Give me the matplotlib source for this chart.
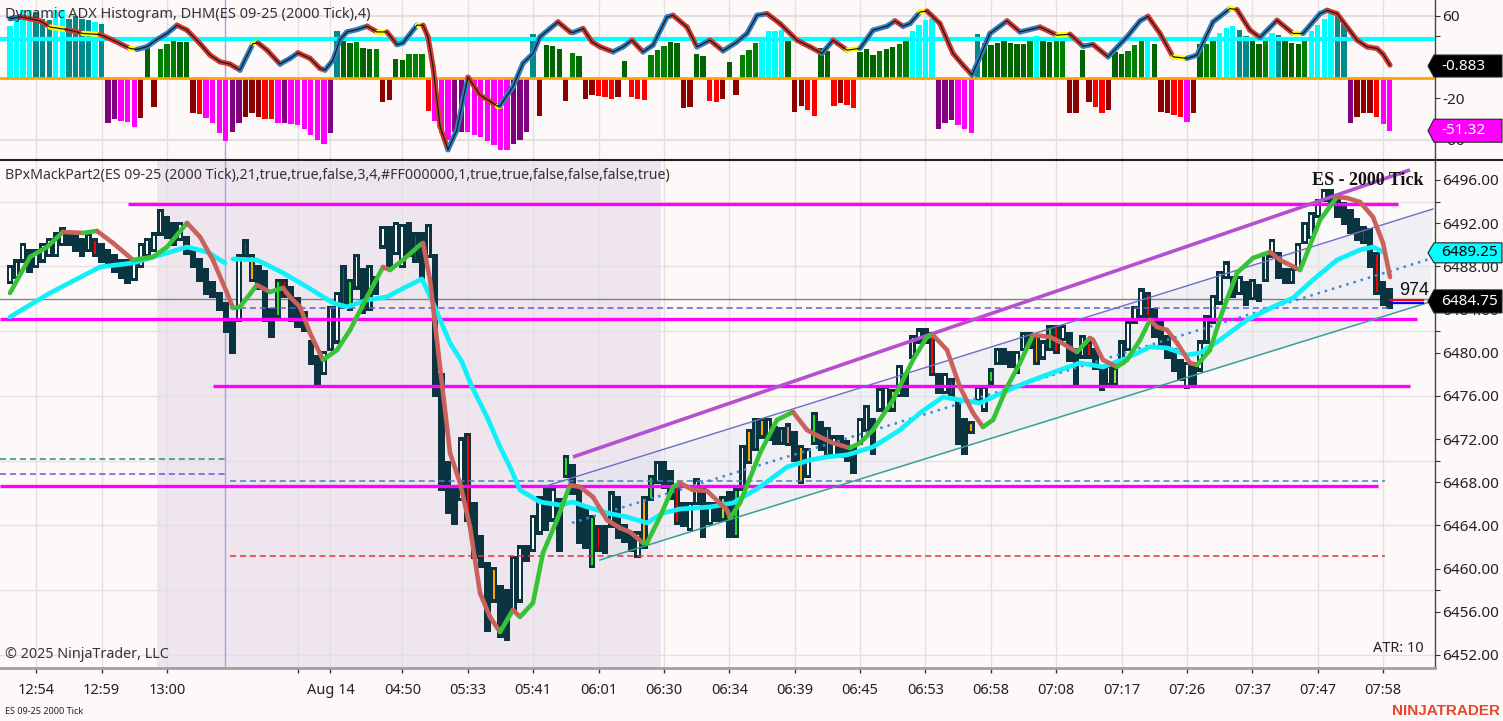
import numpy as np
import matplotlib
matplotlib.use("Agg")
import matplotlib.pyplot as plt
from matplotlib.collections import LineCollection
from matplotlib.patches import Polygon
from matplotlib.lines import Line2D
import matplotlib.transforms as mtransforms

plt.rcParams['font.family'] = ['Noto Sans', 'DejaVu Sans']

# ------------------------------------------------------------------ data
x_tick_pos = [4, 14, 24, 44, 49, 60, 70, 80, 90, 100, 110, 120, 130, 140, 150,
              160, 170, 180, 190, 200, 210]
x_tick_labels = ['12:54', '12:59', '13:00', '', 'Aug 14', '04:50', '05:33', '05:41',
                 '06:01', '06:30', '06:34', '06:39', '06:45', '06:53', '06:58',
                 '07:08', '07:17', '07:26', '07:37', '07:47', '07:58']

price_ticks = [6452, 6456, 6460, 6464, 6468, 6472, 6476, 6480, 6484, 6488, 6492, 6496]
price_grid = [6452, 6458, 6464, 6470, 6476, 6482, 6488, 6494]
osc_ticks = [60, -20, -60]
osc_minor = [40]
osc_grid = [60, -60]

# candles: (low, high, up)
candles = [
 (6486.5,6488.0,1),(6487.0,6488.5,1),(6488.5,6490.0,1),(6487.5,6489.5,0),(6488.0,6489.5,1),
 (6488.5,6490.0,1),(6489.0,6490.5,1),(6489.0,6491.0,1),(6490.0,6491.5,1),(6490.0,6491.0,0),
 (6489.5,6491.0,0),(6489.0,6490.5,0),(6489.5,6491.0,1),(6489.0,6490.5,0),(6488.5,6490.0,0),
 (6488.0,6489.5,0),(6487.5,6489.0,0),(6487.0,6488.5,0),(6486.5,6488.5,0),(6486.8,6488.5,1),
 (6488.0,6490.0,1),(6489.0,6490.5,1),(6489.5,6491.0,1),(6491.0,6493.2,1),(6490.7,6492.5,0),
 (6490.0,6492.0,0),(6490.5,6492.0,1),(6489.2,6490.7,0),(6488.0,6489.5,0),(6486.7,6488.6,0),
 (6485.5,6487.7,0),(6485.2,6486.5,0),(6484.0,6485.5,0),(6482.0,6484.5,0),(6480.0,6483.0,0),
 (6483.0,6489.0,1),(6488.9,6490.4,1),(6486.7,6489.0,0),(6486.0,6488.0,0),(6483.0,6487.5,0),
 (6481.5,6484.0,0),(6483.3,6486.7,1),(6485.2,6486.7,1),(6483.0,6486.0,0),(6482.4,6485.0,0),
 (6482.1,6483.7,0),(6479.0,6481.0,0),(6477.2,6479.6,0),(6478.1,6480.0,1),(6480.3,6484.2,1),
 (6481.0,6485.5,1),(6484.2,6488.0,1),(6484.0,6486.7,0),(6486.0,6489.0,1),(6483.7,6487.7,0),
 (6484.0,6488.0,1),(6485.5,6487.0,0),(6489.8,6491.6,1),(6488.0,6491.6,0),(6489.2,6492.0,1),
 (6488.0,6491.8,1),(6489.0,6492.0,0),(6488.5,6491.0,1),(6487.0,6491.0,0),(6488.9,6491.8,1),
 (6476.0,6489.0,0),(6467.3,6478.0,0),(6465.2,6469.8,0),(6464.2,6467.3,0),(6466.4,6472.0,1),
 (6464.5,6472.4,0),(6461.0,6466.0,0),(6460.2,6463.0,0),(6454.3,6460.5,0),(6457.0,6460.0,1),
 (6453.7,6458.3,0),(6453.4,6458.0,0),(6456.2,6461.0,1),(6457.0,6462.0,1),(6460.8,6462.0,0),
 (6461.7,6464.8,1),(6463.3,6466.6,1),(6463.6,6467.6,0),(6464.5,6467.3,1),(6461.7,6466.4,0),
 (6468.5,6470.4,1),(6467.0,6469.5,0),(6462.4,6467.3,0),(6462.0,6465.7,0),(6460.2,6464.8,0),
 (6461.7,6463.9,1),(6461.5,6463.9,0),(6463.9,6467.0,1),(6462.9,6466.6,0),(6462.5,6464.0,0),
 (6461.7,6463.3,0),(6461.1,6463.3,1),(6462.0,6466.6,1),(6466.4,6468.5,1),(6468.0,6469.8,1),
 (6467.5,6469.8,0),(6466.5,6469.0,0),(6464.2,6467.6,0),(6464.0,6466.0,0),(6463.6,6466.0,1),
 (6466.0,6468.2,1),(6463.0,6467.3,0),(6464.2,6466.0,1),(6464.5,6466.0,0),(6464.5,6466.6,1),
 (6463.0,6467.0,0),(6463.0,6467.3,1),(6467.3,6471.3,1),(6469.8,6472.8,1),(6471.0,6473.8,1),
 (6472.2,6473.8,0),(6472.0,6473.8,1),(6471.6,6473.1,0),(6471.6,6473.0,1),(6471.5,6473.3,0),
 (6470.0,6472.6,0),(6468.0,6471.3,0),(6468.5,6471.0,1),(6471.6,6474.4,1),(6471.0,6473.5,0),
 (6470.5,6473.0,0),(6470.4,6472.2,1),(6470.4,6472.2,0),(6470.0,6471.8,0),(6468.9,6471.3,0),
 (6471.6,6473.8,1),(6472.8,6475.0,1),(6470.7,6473.8,0),(6474.7,6476.6,1),(6474.7,6476.8,1),
 (6474.7,6476.5,0),(6476.0,6478.7,1),(6476.0,6478.0,0),(6479.6,6481.5,1),(6481.0,6482.1,1),
 (6481.0,6482.1,0),(6478.0,6481.8,0),(6476.3,6478.0,0),(6476.3,6478.0,1),(6476.0,6477.5,0),
 (6471.6,6475.6,0),(6470.7,6473.8,0),(6472.6,6473.5,1),(6475.6,6476.8,1),(6474.7,6476.8,1),
 (6477.2,6478.4,1),(6479.0,6480.3,1),(6479.0,6480.3,0),(6478.7,6480.0,0),(6478.2,6480.0,1),
 (6480.3,6481.8,1),(6480.5,6481.8,0),(6479.0,6481.5,0),(6479.5,6481.0,1),(6480.3,6482.4,1),
 (6480.0,6482.4,0),(6481.2,6482.4,1),(6479.3,6481.8,0),(6477.2,6480.3,0),(6479.6,6481.5,1),
 (6479.6,6481.0,0),(6478.5,6480.3,0),(6476.6,6478.7,0),(6477.0,6478.7,1),(6477.0,6478.5,0),
 (6479.0,6481.0,1),(6480.3,6482.8,1),(6482.8,6484.2,1),(6483.3,6485.8,1),(6483.3,6485.5,0),
 (6481.5,6484.0,0),(6480.5,6482.8,0),(6479.6,6481.5,0),(6478.4,6480.3,0),(6477.5,6479.3,0),
 (6476.8,6479.0,1),(6477.0,6479.0,0),(6478.4,6481.0,1),(6481.0,6483.3,1),(6482.8,6485.2,1),
 (6484.6,6487.4,1),(6487.0,6488.3,1),(6485.2,6487.0,0),(6485.5,6487.0,1),(6484.5,6486.5,0),
 (6485.0,6486.7,1),(6484.8,6486.2,0),(6486.7,6489.2,1),(6488.9,6490.4,1),(6487.0,6489.2,0),
 (6486.5,6487.7,0),(6486.5,6487.7,1),(6487.7,6490.0,1),(6490.2,6492.0,1),(6490.7,6492.9,1),
 (6492.6,6494.1,1),(6494.1,6495.0,1),(6494.0,6495.0,0),(6492.6,6494.3,0),(6492.0,6493.8,0),
 (6491.1,6493.2,0),(6490.5,6492.3,0),(6490.2,6491.6,0),(6488.0,6491.4,0),(6485.5,6489.2,0),
 (6484.5,6486.5,0),(6484.2,6485.8,0),
]

signals = [(13,'r'),(36,'r'),(37,'o'),(41,'g'),(42,'r'),(51,'r'),(52,'g'),(62,'r'),(70,'r'),
           (74,'o'),(85,'g'),(89,'g'),(90,'r'),(97,'o'),(98,'g'),(102,'r'),(109,'y'),(111,'g'),
           (113,'o'),(114,'g'),(115,'o'),(118,'o'),(119,'s'),(121,'o'),(123,'g'),(125,'o'),
           (135,'y'),(141,'r'),(144,'r'),(147,'o'),(150,'g'),(157,'o'),(159,'g'),(160,'r'),
           (165,'r'),(169,'y'),(174,'r'),(207,'r'),(209,'r')]

# histogram: (value, colour code)
hist = [
 (50,'C'),(61,'C'),(66,'C'),(66,'C'),(64,'T'),(57,'T'),(55.6,'T'),(66,'C'),(66,'C'),(57,'T'),
 (60,'T'),(57,'T'),(55.6,'T'),(54,'C'),(52,'T'),(-44,'P'),(-40,'P'),(-42,'M'),(-43,'M'),(-48,'M'),
 (-39,'K'),(31.5,'D'),(-28.6,'K'),(27.6,'G'),(33,'G'),(35.6,'G'),(34.7,'D'),(34.7,'D'),(-34.4,'K'),(-35,'R'),
 (-39,'M'),(-44,'M'),(-53.6,'M'),(-61.7,'M'),(-53,'P'),(-44,'P'),(-38,'K'),(-34.4,'K'),(-37.6,'K'),(-40,'R'),
 (-40,'R'),(-44,'M'),(-43.4,'P'),(-44.6,'M'),(-45.6,'M'),(-49.8,'M'),(-55,'M'),(-60,'M'),(-64,'M'),(-53.6,'P'),
 (45,'T'),(35.6,'D'),(34,'D'),(34.7,'G'),(28.6,'D'),(27.6,'D'),(27.6,'G'),(-24,'K'),(-22,'K'),(17.7,'D'),
 (17,'D'),(23.4,'G'),(23.4,'G'),(23.4,'G'),(-32.7,'R'),(-42.4,'M'),(-53.6,'M'),(-60,'M'),(-53,'P'),(-53,'P'),
 (-53,'M'),(-55,'M'),(-57,'M'),(-61.7,'M'),(-65,'M'),(-69.7,'M'),(-70,'M'),(-64,'P'),(-60.7,'P'),(-53,'P'),
 (42.7,'T'),(-37,'K'),(31.5,'D'),(30.8,'D'),(27.3,'D'),(-23,'K'),(24,'G'),(20.9,'D'),(-20.9,'K'),(-16.7,'K'),
 (-17.7,'R'),(-18.3,'R'),(-20.6,'R'),(-18.3,'K'),(16.4,'D'),(-18.3,'R'),(-20.6,'R'),(-22,'R'),(21.8,'G'),(26.7,'G'),
 (30.8,'G'),(34.7,'D'),(34,'D'),(-28.9,'K'),(-28.3,'K'),(23.4,'D'),(20.9,'D'),(-22.5,'R'),(-23.4,'R'),(-20.6,'K'),
 (15.4,'D'),(-16.4,'K'),(21.8,'G'),(26.7,'G'),(33.7,'G'),(39.5,'C'),(45,'C'),(45,'C'),(46,'C'),(38.9,'D'),
 (-32.8,'K'),(-27.3,'K'),(-31,'R'),(-36.6,'R'),(29.2,'D'),(25.7,'D'),(-27.3,'R'),(-24.7,'K'),(-26.3,'R'),(-28.9,'R'),
 (24.4,'D'),(27.3,'D'),(21.8,'D'),(25.7,'G'),(27.6,'D'),(29.9,'D'),(32.4,'G'),(35.6,'G'),(45.3,'C'),(50.7,'C'),
 (56,'C'),(57,'C'),(-49.5,'P'),(-44,'P'),(-41.4,'P'),(-45.6,'M'),(-49.8,'M'),(-53.6,'M'),(42,'T'),(34,'D'),
 (31.5,'D'),(34,'D'),(35.6,'D'),(34,'D'),(32.4,'D'),(32.4,'D'),(35.6,'G'),(40.1,'C'),(35.6,'D'),(34.7,'D'),
 (35.6,'G'),(38.9,'G'),(-34.4,'K'),(-33.7,'K'),(26.7,'D'),(-24,'K'),(-28.6,'R'),(-33.7,'R'),(-31,'K'),(24.4,'D'),
 (22.5,'D'),(25.7,'G'),(31.5,'G'),(38.9,'G'),(39.5,'C'),(32.4,'D'),(-33.4,'K'),(-34.4,'K'),(-36,'R'),(-38.2,'R'),
 (-43,'M'),(-34.4,'K'),(32.4,'D'),(33,'G'),(35.6,'G'),(43.4,'C'),(48.5,'C'),(49.8,'C'),(46.6,'T'),(40.1,'T'),
 (35.6,'D'),(33,'D'),(35.6,'G'),(43.4,'C'),(41.1,'T'),(35.6,'D'),(34,'D'),(32.4,'D'),(38.9,'G'),(45,'C'),
 (50.7,'C'),(57,'C'),(62,'C'),(60.4,'T'),(52.3,'T'),(-43.4,'P'),(-37.6,'K'),(-34.4,'K'),(-33.7,'K'),(-37.6,'R'),
 (-44.6,'M'),(-52,'M'),
]

adx_pts = [(0,57),(1.53,59),(4.59,55),(6.12,49),(8.72,46.6),(11.16,42.8),(13.76,41.8),(15.75,36.3),
 (18.35,28.3),(19.42,27.4),(20.95,30),(22.48,37),(24.01,42.8),(25.54,50.8),(27.07,46),(29.06,33),
 (30.59,21.9),(32.11,15.4),(33.64,13.2),(35.17,7.4),(37.16,33),(37.93,33.7),(39.3,26.7),(41.29,13.2),
 (42.82,18.7),(44.04,24),(45.88,18.7),(47.41,9),(48.17,7.4),(49.4,17),(50.47,37),(51.54,44.3),
 (53.07,46.6),(54.6,49.8),(56.12,44.3),(57.65,44.3),(59.18,32),(60.1,33.7),(62.24,50.8),(63.16,50.8),
 (63.92,39.5),(64.69,10.6),(65.76,-47),(66.98,-69.7),(68.36,-50.4),(69.28,-21.5),(70.04,0.4),
 (71.88,-16.7),(74.48,-27.3),(74.94,-27.3),(76.92,-8.7),(78.45,13.9),(79.98,23.5),(81.05,39.5),
 (82.58,47.6),(83.8,54),(85.64,44.3),(86.1,43.7),(87.63,47.6),(89.0,34.7),(90.23,29.9),(92.22,25),
 (93.75,29.9),(95.12,36.3),(96.8,25),(98.33,31.5),(100.47,58.8),(101.39,60.4),(103.53,49),
 (105.06,29.9),(107.05,36.3),(109.04,26),(111.18,34.7),(112.71,42.8),(114.24,60.4),(115.77,62),
 (117.75,52.4),(120.35,36.3),(122.34,29.9),(124.18,23.5),(125.86,36.3),(128.0,26.7),(129.99,28.3),
 (131.98,46),(134.12,49.8),(135.34,55),(136.57,49.8),(137.63,52.4),(139.17,63.6),(140.24,64.5),
 (142.22,52.4),(144.21,23.5),(145.74,12.2),(147.12,2.6),(148.34,20.2),(149.87,42.8),(152.47,55),
 (154.46,44.3),(157.52,49),(160.12,41.1),(162.1,42.1),(164.09,30.5),(165.62,32.2),(167.92,20.2),
 (170.82,39.5),(172.81,55),(174.03,59.4),(175.87,42.8),(177.86,20.2),(180.0,18.7),(181.53,21.9),
 (183.97,54),(186.57,66.9),(187.64,65.9),(189.63,46),(191.16,38.9),(193.76,55.6),(196.21,42.8),
 (197.74,42.8),(200.34,62),(201.41,65.2),(202.94,62),(206.0,36.3),(207.52,29.9),(209.05,28.3),
 (209.97,22.8),(211.04,12.2)]

fast_pts = [(0,6485.53),(3.06,6488.87),(5.66,6489.79),(8.1,6491.18),(11.16,6491.09),(13.3,6491.28),
 (15.75,6490.16),(18.81,6488.59),(21.87,6488.87),(24.01,6489.79),(27.07,6492.02),(29.06,6490.72),
 (31.04,6488.59),(33.19,6485.53),(34.1,6484.14),(35.17,6484.24),(37.77,6486.27),(39.76,6485.62),
 (41.75,6486.0),(42.82,6485.16),(44.35,6484.24),(45.88,6481.83),(47.87,6479.33),(50.01,6480.25),
 (52.0,6482.10),(54.6,6485.16),(57.04,6487.94),(58.11,6487.66),(60.1,6488.59),(62.7,6489.98),
 (63.16,6490.16),(64.23,6486.74),(65.76,6478.68),(67.29,6470.71),(68.82,6467.93),(70.35,6463.86),
 (71.88,6457.74),(73.41,6455.52),(74.94,6454.13),(76.92,6456.17),(77.99,6455.52),(79.98,6456.82),
 (81.51,6461.45),(83.65,6464.50),(85.64,6467.75),(87.17,6467.56),(89.16,6466.63),(91.3,6464.50),
 (93.29,6463.76),(94.82,6463.39),(96.8,6462.37),(97.42,6462.40),(99.4,6464.78),(101.39,6467.56),
 (102.46,6467.93),(104.45,6467.28),(106.59,6467.20),(109.65,6465.43),(110.11,6464.69),
 (111.64,6466.08),(114.7,6470.71),(117.3,6473.77),(119.74,6474.51),(121.88,6472.84),(123.87,6472.19),
 (125.86,6471.64),(128.46,6471.17),(129.99,6471.64),(131.98,6472.84),(135.04,6475.62),
 (138.09,6479.33),(140.24,6481.46),(141.15,6481.64),(143.29,6480.25),(145.28,6476.82),
 (147.27,6474.42),(148.8,6473.12),(150.33,6473.77),(152.47,6476.82),(154.46,6479.05),
 (156.45,6481.64),(159.05,6481.46),(160.58,6480.99),(163.17,6480.07),(165.16,6481.36),
 (165.62,6481.18),(167.15,6479.33),(169.29,6478.68),(170.82,6479.33),(172.81,6481.18),
 (174.34,6483.03),(175.41,6482.38),(176.94,6482.10),(178.47,6480.90),(180.46,6479.05),
 (181.53,6478.86),(183.51,6480.25),(185.5,6483.96),(187.64,6487.39),(190.09,6488.77),
 (192.69,6489.33),(194.22,6488.59),(197.28,6487.66),(197.74,6488.31),(200.34,6492.29),
 (202.94,6494.43),(204.47,6494.33),(206.45,6493.96),(208.44,6492.57),(209.97,6490.16),(211.04,6487.01)]

slow_pts = [(0,6483.31),(6.12,6485.53),(13.76,6487.94),(18.81,6488.31),(24.01,6489.24),(27.07,6489.79),
 (30.13,6489.33),(32.88,6488.31),(np.nan,np.nan),(34.1,6488.68),(37.77,6488.59),(41.75,6487.39),
 (45.42,6486.09),(49.39,6484.61),(51.54,6484.24),(54.6,6484.88),(57.65,6485.16),(59.64,6485.81),
 (63.0,6486.83),(64.69,6484.61),(67.29,6480.90),(69.12,6479.14),(70.65,6476.82),(72.95,6474.05),
 (74.93,6471.27),(76.46,6469.41),(77.99,6467.28),(81.05,6466.17),(84.11,6465.89),(86.1,6466.17),
 (88.24,6465.71),(91.3,6465.15),(94.36,6464.78),(97.42,6464.23),(99.86,6465.15),(102.46,6465.52),
 (107.05,6465.71),(110.57,6466.08),(114.7,6467.56),(118.83,6469.41),(122.34,6470.06),(124.94,6470.34),
 (128.0,6470.53),(131.98,6471.27),(136.11,6472.84),(139.17,6474.42),(142.68,6475.90),(145.28,6475.62),
 (148.34,6475.34),(150.33,6475.90),(153.39,6476.73),(156.45,6477.47),(160.58,6478.40),(163.63,6479.05),
 (167.15,6478.68),(170.82,6479.51),(174.34,6480.53),(176.94,6480.44),(180.0,6479.79),(181.98,6479.97),
 (185.04,6481.18),(189.17,6483.03),(193.15,6484.24),(196.21,6485.07),(199.27,6486.74),(202.94,6488.59),
 (206.45,6489.52),(208.44,6489.79),(209.97,6489.33)]

magenta_levels = [6493.8, 6483.12, 6476.92, 6467.65]
magenta_spans = [(18.05, 212.3), (-1.6, 215.2), (31.04, 214.1), (-1.6, 209.2)]

dash_levels = [6470.15, 6468.76, 6484.10, 6468.12, 6461.17]
dash_spans = [(-1.6, 33.34), (-1.6, 33.34), (33.64, 211.04), (33.64, 210.3), (33.64, 210.3)]
dash_colors = ['#2e8b8b', '#6a5acd', '#6a5acd', '#4682b4', '#e8303a']

chan_upper_thick = [(86.1, 6470.34), (214.1, 6496.93)]
chan_upper = [(81.51, 6467.56), (217.6, 6493.31)]
chan_mid = [(85.95, 6464.23), (217.6, 6488.77)]
chan_lower = [(90.23, 6460.80), (217.15, 6484.70)]

last_price = 6484.95
slow_last = 6489.25
close_last = 6484.75
osc_line_label = -0.883
osc_hist_last = -51.32
adx_level = 37.2
session_break = 32.95
shade_span = (22.48, 99.56)
tick_count_left = '974'

# ------------------------------------------------------------------ figure
W, H = 1503, 721
BG = '#fdf9f9'
DARK = '#0b3441'
fig = plt.figure(figsize=(W / 100, H / 100), dpi=100)
fig.patch.set_facecolor(BG)

right_px = 1435
ax_top = fig.add_axes([0, 1 - 159 / H, right_px / W, 159 / H])
ax = fig.add_axes([0, 1 - 668 / H, right_px / W, (668 - 160) / H])
for a in (ax_top, ax):
    a.set_facecolor(BG)
    a.set_xlim(-10 / 6.539, (right_px - 10) / 6.539)
    for s in ('top', 'left'):
        a.spines[s].set_visible(False)
    a.spines['right'].set_color('#444444')
    a.spines['right'].set_linewidth(1)

ax.set_ylim(6450.79, 6497.85)
ax_top.set_ylim(-78.7, 75.2)
ax_top.spines['bottom'].set_visible(False)
ax.spines['bottom'].set_color('#a0a0a0')
ax.spines['bottom'].set_linewidth(2)

# grids
for a in (ax_top, ax):
    a.vlines(x_tick_pos, 0, 1, transform=a.get_xaxis_transform(), color='#e5e0e0',
             lw=1, zorder=0.6)
    a.axvline(session_break, color='#a3a3e0', lw=1, zorder=1.5)
ax.hlines(price_grid, -5, 230, color='#e5e0e0', lw=1, zorder=0.6)
ax_top.hlines(osc_grid, -5, 230, color='#e5e0e0', lw=1.5, zorder=0.6)
ax.axvspan(*shade_span, color='#eee5ee', zorder=0.5, lw=0)

# ------------------------------------------------------------------ top panel
hcol = {'C': '#00ffff', 'T': '#008b8b', 'G': '#008000', 'D': '#006400',
        'P': '#800080', 'M': '#ff00ff', 'R': '#ff0000', 'K': '#8b0000'}
hv = np.array([h[0] for h in hist])
hc = [hcol[h[1]] for h in hist]
ax_top.bar(np.arange(len(hist)), hv, width=0.82, color=hc, zorder=2, lw=0)
ax_top.axhline(adx_level, color='#00ffff', lw=3, zorder=3)
ax_top.axhline(0, color='#ffa500', lw=2, zorder=3)

ax_x = np.array([p[0] for p in adx_pts])
ax_v = np.array([p[1] for p in adx_pts])
segs = [[(ax_x[k], ax_v[k]), (ax_x[k + 1], ax_v[k + 1])] for k in range(len(ax_x) - 1)]
slopes = np.diff(ax_v) / np.diff(ax_x)
scol = ['#ffff00' if abs(s) < 1.0 else ('#2f7fc1' if s > 0 else '#d23a32') for s in slopes]
ax_top.add_collection(LineCollection(segs, colors=scol, linewidths=3.8, zorder=4,
                                     capstyle='round', joinstyle='round'))
ax_top.plot(ax_x, ax_v, color='#1a1a1a', lw=0.9, zorder=4.5, solid_joinstyle='round')

ax_top.set_xticks([])
ax_top.yaxis.tick_right()
ax_top.set_yticks(osc_ticks)
ax_top.set_yticklabels([str(v) for v in osc_ticks])
ax_top.set_yticks(osc_minor, minor=True)
ax_top.tick_params(axis='y', which='both', length=3.6, width=0.8, color='#333333', pad=1.5,
                   labelsize=11, labelcolor='#222222')

# ------------------------------------------------------------------ price panel
lo = np.array([c[0] for c in candles])
hi = np.array([c[1] for c in candles])
up = np.array([c[2] for c in candles]).astype(bool)
idx = np.arange(len(candles))

# channel fill
poly_pts = [chan_upper[0], chan_upper[1], chan_lower[1], chan_lower[0]]
ax.add_patch(Polygon(poly_pts, closed=True, facecolor='#dfe4ee', alpha=0.45, lw=0, zorder=1))

ax.axhline(last_price, color='#808080', lw=1, zorder=2)

edge = 0.15
ax.bar(idx, hi - lo + 2 * edge, bottom=lo - edge, width=1.0, color=DARK, lw=0, zorder=3)
ins = 0.15
ax.bar(idx[up], (hi - lo - 2 * ins)[up], bottom=lo[up] + ins, width=0.26,
       color='white', lw=0, zorder=3.1)
sig_map = {'r': '#ff0000', 'g': '#22e022', 'o': '#ffa500', 'y': '#a8e030', 's': '#e08070'}
sb = np.array([s[0] for s in signals])
ax.bar(sb, (hi - lo - 2 * ins)[sb], bottom=lo[sb] + ins, width=0.26,
       color=[sig_map[s[1]] for s in signals], lw=0, zorder=3.2)

for lev, (x0, x1) in zip(magenta_levels, magenta_spans):
    ax.plot([x0, x1], [lev, lev], color='#ff00ff', lw=2.4, zorder=3.6, solid_capstyle='butt')
for lev, (x0, x1), c in zip(dash_levels, dash_spans, dash_colors):
    ax.plot([x0, x1], [lev, lev], color=c, lw=1.1, ls=(0, (4, 2.5)), zorder=3.5)

def seg_line(pts, **kw):
    ax.plot([pts[0][0], pts[1][0]], [pts[0][1], pts[1][1]], **kw)

seg_line(chan_upper_thick, color='#b650d0', lw=2.6, zorder=3.7, solid_capstyle='butt')
seg_line(chan_upper, color='#6e6ec8', lw=1.0, zorder=3.7)
seg_line(chan_mid, color='#3a8ad8', lw=1.8, ls=(0, (1, 2)), zorder=3.7)
seg_line(chan_lower, color='#3a9e98', lw=1.1, zorder=3.7)

sx = np.array([p[0] for p in slow_pts])
sv = np.array([p[1] for p in slow_pts])
ax.plot(sx, sv, color='#10f0f8', lw=3.4, zorder=4, solid_capstyle='round')

fx = np.array([p[0] for p in fast_pts])
fv = np.array([p[1] for p in fast_pts])
fsegs = [[(fx[k], fv[k]), (fx[k + 1], fv[k + 1])] for k in range(len(fx) - 1)]
fcol = ['#36c336' if d > 0 else '#c9625b' for d in np.diff(fv)]
ax.add_collection(LineCollection(fsegs, colors=fcol, linewidths=3.3, zorder=4.2,
                                 capstyle='round', joinstyle='round'))

# small markers by last bar
ax.plot([211.04, 216.1], [6484.88, 6484.88], color='#ff0000', lw=1.6, zorder=5)
ax.plot([211.04, 216.1], [6484.62, 6484.62], color='#0000ff', lw=1.6, zorder=5)
ax.text(212.4, 6485.75, tick_count_left, fontsize=13, family=['Liberation Sans'],
        color='#111111', va='center', ha='left', zorder=6)

ax.yaxis.tick_right()
ax.set_yticks(price_ticks)
ax.set_yticklabels([f'{v:.2f}' for v in price_ticks])
ax.set_yticks([v for v in price_grid if v not in price_ticks], minor=True)
ax.tick_params(axis='y', which='both', length=3.6, width=0.8, color='#333333', pad=1.5,
               labelsize=11, labelcolor='#222222')
ax.set_xticks(x_tick_pos)
ax.set_xticklabels(x_tick_labels)
ax.tick_params(axis='x', length=3.6, width=1, color='#333333', pad=7,
               labelsize=10.5, labelcolor='#222222')

# ------------------------------------------------------------------ value boxes
def value_box(axis, val, hpx, fc, tc, txt, pxscale):
    trans = mtransforms.blended_transform_factory(fig.transFigure, axis.transData)
    h = hpx / pxscale
    xt, xl, xr = 1428 / W, 1434 / W, 1502 / W
    poly = Polygon([(xt, val), (xl, val + h / 2), (xr, val + h / 2), (xr, val - h / 2),
                    (xl, val - h / 2)], closed=True, transform=trans, facecolor=fc,
                   edgecolor='#222222', lw=0.8, zorder=10)
    fig.add_artist(poly)
    fig.text(1441 / W, val, txt, transform=trans, fontsize=11, color=tc,
             va='center', ha='left', zorder=11)

value_box(ax, slow_last, 20, '#00ffff', '#000000', f'{slow_last:.2f}', 10.795)
value_box(ax, close_last, 23, '#000000', '#ffffff', f'{close_last:.2f}', 10.795)
value_box(ax_top, 11.3, 22, '#000000', '#ffffff', f'{osc_line_label:.3f}', 1.0333)
value_box(ax_top, osc_hist_last, 23, '#ff00ff', '#ffffff', f'{osc_hist_last:.2f}', 1.0333)

# ------------------------------------------------------------------ texts
fig.add_artist(Line2D([0, 1], [1 - 159.5 / H] * 2, color='#222222', lw=1.5))
fig.text(5 / W, 1 - 15 / H, 'Dynamic ADX Histogram, DHM(ES 09-25 (2000 Tick),4)',
         fontsize=10.5, color='#333333', va='center', ha='left', zorder=20)
fig.text(5 / W, 1 - 176 / H,
         'BPxMackPart2(ES 09-25 (2000 Tick),21,true,true,false,3,4,#FF000000,1,true,true,false,false,false,true)',
         fontsize=10.2, color='#333333', va='center', ha='left', zorder=20)
fig.text(1424 / W, 1 - 185 / H, 'ES - 2000 Tick', fontsize=13, fontweight='bold',
         family=['Liberation Serif'], color='#111111', ha='right', va='baseline', zorder=20)
fig.text(5 / W, 1 - 654 / H, '© 2025 NinjaTrader, LLC', fontsize=10.3, color='#333333',
         va='center', ha='left')
fig.text(1424 / W, 1 - 649 / H, 'ATR: 10', fontsize=10.5, color='#222222',
         va='center', ha='right')
fig.text(5 / W, 1 - 711 / H, 'ES 09-25 2000 Tick', fontsize=6.5, color='#222222',
         va='center', ha='left')
fig.text(1500 / W, 1 - 711 / H, 'NINJATRADER', fontsize=11, fontweight='bold',
         family=['Liberation Sans'], color='#e8452c', va='center', ha='right')

fig.savefig('out.png', dpi=100, facecolor=BG)
